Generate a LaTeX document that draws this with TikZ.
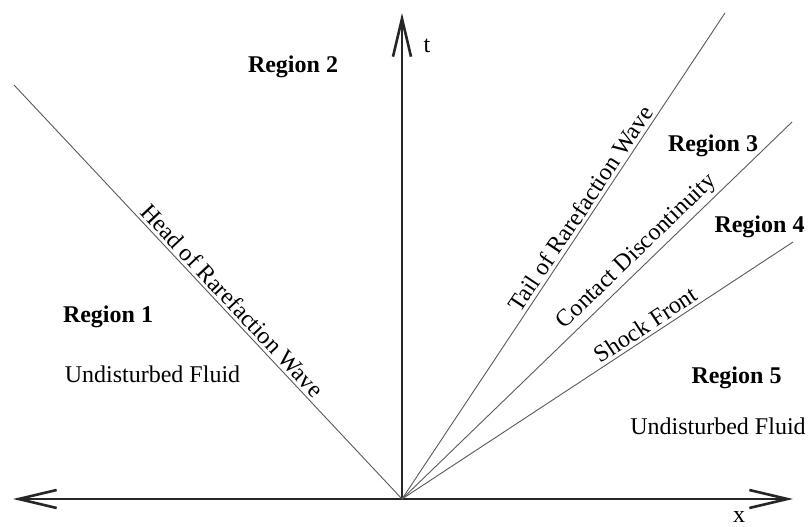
\documentclass[tikz,border=0pt]{standalone}
\usepackage{fontspec}
\setmainfont{Liberation Serif}
\usetikzlibrary{arrows.meta}
\begin{document}
\begin{tikzpicture}[x=1pt,y=1pt,
  axis/.style={line width=1.6pt,draw=black!85,-{Straight Barb[length=38pt,width=18pt,line width=2.6pt]}},
  ray/.style={line width=0.9pt,draw=black!65},
  lab/.style={font=\fontsize{24}{28}\selectfont},
  reg/.style={font=\fontsize{24}{28}\selectfont\bfseries,anchor=base},
  txt/.style={font=\fontsize{24}{28}\selectfont,anchor=base},
  raylab/.style={lab,sloped,above,inner sep=3pt}]
\useasboundingbox (0,0) rectangle (808,527);
\coordinate (O) at (402,28);
\coordinate (L) at (13,28);
\coordinate (R) at (793,28);
\coordinate (T) at (402,514);
\coordinate (head) at (14,442);
\coordinate (tail) at (725,514);
\coordinate (contact) at (792,405);
\coordinate (shock) at (793,285);
\draw[axis] (O) -- (L);
\draw[axis] (O) -- (R);
\draw[axis] (O) -- (T);
\draw[ray] (O) -- node[raylab,pos=0.46] (hl) {Head of Rarefaction Wave} (head);
\draw[ray] (O) -- node[raylab,pos=0.584] (tl) {Tail of Rarefaction Wave} (tail);
\draw[ray] (O) -- node[raylab,pos=0.628] (cl) {Contact Discontinuity} (contact);
\draw[ray] (O) -- node[raylab,pos=0.64] (sl) {Shock Front} (shock);
\node[txt] (tlab) at (427,474) {t};
\node[txt] (xlab) at (739,4) {x};
\node[reg] (r1) at (108,204) {Region 1};
\node[txt] (u1) at (152.5,144) {Undisturbed Fluid};
\node[reg] (r2) at (293,454) {Region 2};
\node[reg] (r3) at (713,375) {Region 3};
\node[reg] (r4) at (759.5,294) {Region 4};
\node[reg] (r5) at (736.5,143) {Region 5};
\node[txt] (u5) at (718,92) {Undisturbed Fluid};
\end{tikzpicture}
\end{document}
